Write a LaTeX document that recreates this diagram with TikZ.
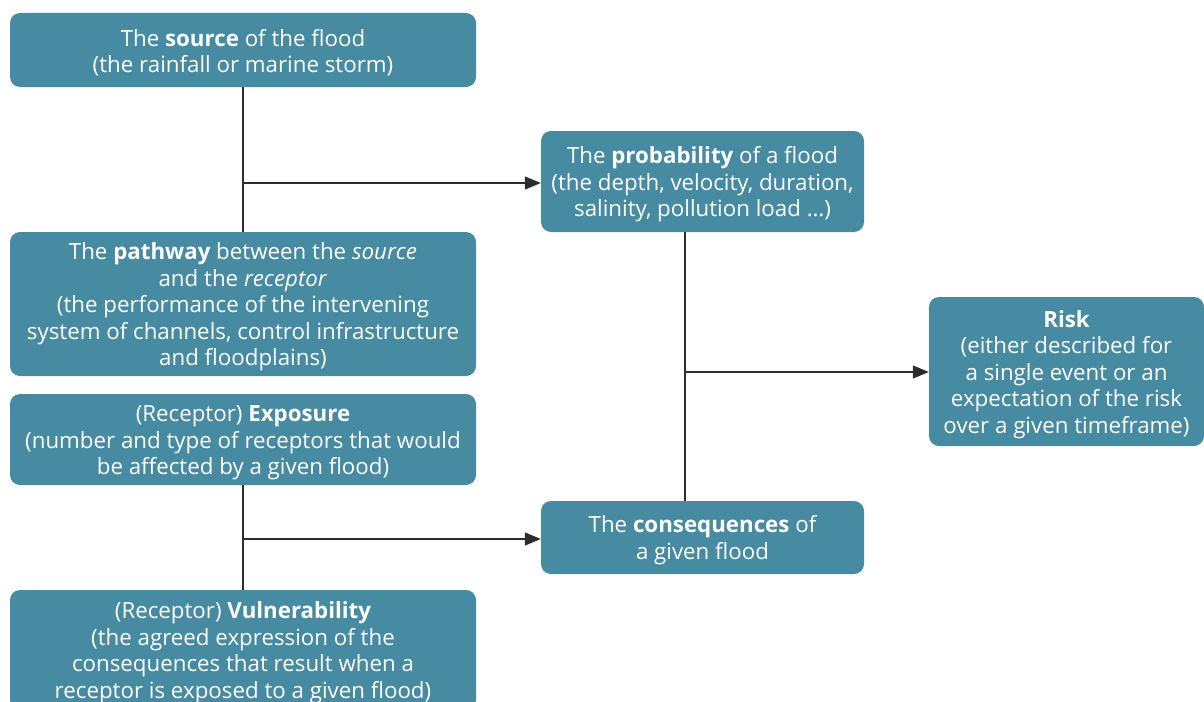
\documentclass[tikz,border=0pt]{standalone}
\usepackage{fontspec}
\setmainfont{Open Sans}
\usetikzlibrary{arrows.meta,calc}
\definecolor{boxblue}{RGB}{70,139,162}
\definecolor{linegray}{RGB}{45,45,45}
\newcommand\firststrut{\rule{0pt}{22.5pt}}
\tikzset{
  box/.style={fill=boxblue, rounded corners=10pt, text=white, align=center,
    inner sep=0pt, font=\fontsize{22.3}{26.5}\selectfont},
  link/.style={draw=linegray, line width=1.3pt},
  arrowlink/.style={link, -{Triangle[length=16pt,width=13pt]}},
}
\begin{document}
\begin{tikzpicture}[x=1pt,y=-1pt]
\useasboundingbox (0,0) rectangle (1204,701);
\begin{scope}
\clip (0,0) rectangle (1204,701);
\node[box, minimum width=466pt, minimum height=74pt] (src) at (243,50)
  {\firststrut The \textbf{source} of the flood\\(the rainfall or marine storm)};
\node[box, minimum width=466pt, minimum height=144pt] (path) at (243,304)
  {\firststrut The \textbf{pathway} between the \textit{source}\\and the \textit{receptor}\\(the performance of the intervening\\system of channels, control infrastructure\\and floodplains)};
\node[box, minimum width=466pt, minimum height=91pt] (exp) at (243,439.5)
  {\firststrut (Receptor) \textbf{Exposure}\\(number and type of receptors that would\\be affected by a given flood)};
\node[box, minimum width=466pt, minimum height=120pt] (vul) at (243,650)
  {\firststrut (Receptor) \textbf{Vulnerability}\\(the agreed expression of the\\consequences that result when a\\receptor is exposed to a given flood)};
\node[box, minimum width=323pt, minimum height=101pt] (prob) at (702.5,181.5)
  {\firststrut The \textbf{probability} of a flood\\(the depth, velocity, duration,\\salinity, pollution load \dots)};
\node[box, minimum width=323pt, minimum height=73pt] (cons) at (702.5,537.5)
  {\firststrut The \textbf{consequences} of\\a given flood};
\node[box, minimum width=275pt, minimum height=149pt] (risk) at (1066.5,371.5)
  {\firststrut\textbf{Risk}\\(either described for\\a single event or an\\expectation of the risk\\over a given timeframe)};
\end{scope}
\coordinate (j1) at (243,183);
\coordinate (j2) at (243,539);
\coordinate (pc) at (685,372);
\draw[link] (src.south) -- (path.north);
\draw[arrowlink] (j1) -- (prob.west |- j1);
\draw[link] (exp.south) -- (vul.north);
\draw[arrowlink] (j2) -- (cons.west |- j2);
\draw[link] (pc |- prob.south) -- (pc |- cons.north);
\draw[arrowlink] (pc) -- (risk.west |- pc);
\end{tikzpicture}
\end{document}
